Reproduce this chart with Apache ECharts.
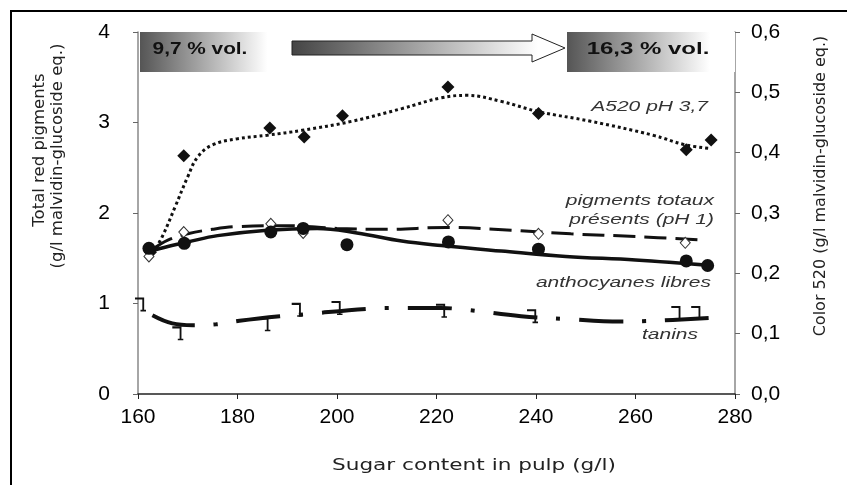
<!DOCTYPE html>
<html>
<head>
<meta charset="utf-8">
<script src="https://cdn.jsdelivr.net/npm/echarts@6/dist/echarts.min.js"></script>
<style>
    html, body { margin: 0; padding: 0; background: #fff; }
    #chart { width: 847px; height: 485px; }
</style>
</head>
<body>
<div id="chart"></div>
<script>
/*
|--------------------------------------------------------------------------
| Data
|--------------------------------------------------------------------------
*/

// A520 pH 3,7 (right axis)
const a520Sugar = [162.5, 169.2, 186.5, 193.4, 201.1, 222.3, 240.5, 270.2, 275.2];
const a520Values = [0.235, 0.395, 0.441, 0.426, 0.461, 0.509, 0.465, 0.405, 0.421];
const a520TrendSugar = [163, 165, 167.5, 170, 172, 175, 180, 186, 193, 203, 213, 221, 226, 233, 240.5, 251, 263.5, 270, 275];
const a520TrendValues = [0.233, 0.263, 0.311, 0.36, 0.393, 0.413, 0.423, 0.429, 0.437, 0.452, 0.473, 0.491, 0.495, 0.485, 0.468, 0.452, 0.429, 0.413, 0.407];

// pigments totaux présents (pH 1)
const pigmentsSugar = [162.2, 169.2, 186.7, 193.2, 222.3, 240.5, 270];
const pigmentsValues = [1.52, 1.79, 1.88, 1.78, 1.92, 1.77, 1.67];
const pigmentsTrendSugar = [163, 166, 170, 175, 180, 190, 200, 210, 222, 235, 247, 260, 274];
const pigmentsTrendValues = [1.60, 1.70, 1.77, 1.82, 1.85, 1.86, 1.83, 1.82, 1.84, 1.81, 1.77, 1.74, 1.70];

// anthocyanes libres
const anthoSugar = [162.2, 169.3, 186.7, 193.2, 202, 222.4, 240.5, 270.2, 274.5];
const anthoValues = [1.61, 1.665, 1.79, 1.83, 1.65, 1.68, 1.60, 1.47, 1.42];
const anthoTrendSugar = [162.5, 166, 170, 176, 186, 196, 204, 213, 221, 233, 246, 260, 275];
const anthoTrendValues = [1.58, 1.63, 1.68, 1.75, 1.81, 1.83, 1.78, 1.69, 1.64, 1.58, 1.52, 1.48, 1.42];

// tanins
const taninsSugar = [160.5, 168, 185.5, 192, 200, 221, 239.3, 268.3, 272.3];
const taninsValues = [0.99, 0.67, 0.77, 0.93, 0.95, 0.92, 0.86, 0.895, 0.895];
const taninsTrendSugar = [162.9, 166.9, 171, 175.7, 180.4, 188.5, 193.2, 206, 212, 221, 226, 237, 245.7, 257, 264, 274.7];
const taninsTrendValues = [0.87, 0.78, 0.76, 0.77, 0.81, 0.86, 0.88, 0.94, 0.95, 0.95, 0.93, 0.86, 0.83, 0.80, 0.81, 0.84];

/*
|--------------------------------------------------------------------------
| Helpers
|--------------------------------------------------------------------------
*/

const ink = '#111';
const labelColor = '#333';
const zip = (xs, ys) => xs.map((x, i) => [x, ys[i]]);

// "⅂" shaped marker used for tanins
const taninSymbol = 'path://M0,0 H10 V12 H12 V13.5 H6 V12 H8 V2 H0 Z';

function trendSeries(name, xs, ys, lineType, width, yAxisIndex = 0) {
    return {
        name,
        type: 'line',
        yAxisIndex,
        smooth: 0.4,
        showSymbol: false,
        silent: true,
        lineStyle: { color: ink, width, type: lineType, cap: 'butt' },
        data: zip(xs, ys),
        z: 2,
    };
}

function italicLabel(text, x, y) {
    return {
        type: 'text',
        x, y,
        scaleX: 1.5,
        style: {
            text,
            fill: labelColor,
            font: 'italic 14px "Liberation Sans", Arial, sans-serif',
            textAlign: 'right', align: 'right',
            textVerticalAlign: 'middle', verticalAlign: 'middle',
        },
        z: 10,
    };
}

function gradientBox(x, width) {
    return {
        type: 'rect',
        shape: { x, y: 32, width, height: 40 },
        style: {
            fill: new echarts.graphic.LinearGradient(0, 0, 1, 0, [
                { offset: 0, color: '#555' },
                { offset: 0.85, color: '#ffffff' },
                { offset: 1, color: '#ffffff' },
            ]),
        },
        z: 1,
    };
}

function boldText(text, x, y, scaleX) {
    return {
        type: 'text',
        x, y,
        scaleX,
        style: {
            text,
            fill: '#111',
            font: 'bold 16px "Liberation Sans", Arial, sans-serif',
            textAlign: 'center', align: 'center',
            textVerticalAlign: 'middle', verticalAlign: 'middle',
        },
        z: 11,
    };
}

function axisTitle(text, x, y, rotation, size, scaleX) {
    return {
        type: 'text',
        x, y,
        rotation,
        scaleX,
        style: {
            text,
            fill: '#222',
            font: size + 'px "DejaVu Sans", Tahoma, sans-serif',
            textAlign: 'center', align: 'center',
            textVerticalAlign: 'middle', verticalAlign: 'middle',
        },
    };
}

/*
|--------------------------------------------------------------------------
| Chart
|--------------------------------------------------------------------------
*/

function initializeChart() {
    const chart = echarts.init(document.getElementById('chart'), null, { renderer: 'canvas' });

    const tickLabel = { color: '#000', fontSize: 21, fontFamily: '"Liberation Sans", Arial, sans-serif' };

    const series = [
        trendSeries('A520 trend', a520TrendSugar, a520TrendValues, [3, 3], 3, 1),
        {
            name: 'A520 pH 3,7',
            type: 'scatter',
            yAxisIndex: 1,
            symbol: 'diamond',
            symbolSize: [13, 13],
            itemStyle: { color: ink, opacity: 1 },
            data: zip(a520Sugar, a520Values),
            z: 3,
        },
        trendSeries('pigments trend', pigmentsTrendSugar, pigmentsTrendValues, [22, 9], 3),
        {
            name: 'pigments totaux présents (pH 1)',
            type: 'scatter',
            symbol: 'diamond',
            symbolSize: [10, 11],
            itemStyle: { color: '#fff', borderColor: '#333', borderWidth: 1, opacity: 1 },
            data: zip(pigmentsSugar, pigmentsValues),
            z: 3,
        },
        trendSeries('anthocyanes trend', anthoTrendSugar, anthoTrendValues, 'solid', 3.5),
        {
            name: 'anthocyanes libres',
            type: 'scatter',
            symbol: 'circle',
            symbolSize: 13,
            itemStyle: { color: ink, opacity: 1 },
            data: zip(anthoSugar, anthoValues),
            z: 4,
        },
        trendSeries('tanins trend', taninsTrendSugar, taninsTrendValues, [44, 19, 4, 19], 4),
        {
            name: 'tanins',
            type: 'scatter',
            symbol: taninSymbol,
            symbolSize: [11, 14],
            itemStyle: { color: ink, opacity: 1 },
            data: zip(taninsSugar, taninsValues),
            z: 4,
        },
    ];

    const graphic = [
        // Outer frame of the scanned figure
        {
            type: 'rect',
            shape: { x: 11, y: 11, width: 860, height: 500 },
            style: { fill: 'none', stroke: '#000', lineWidth: 2 },
        },
        // Alcohol banner
        gradientBox(140, 150),
        gradientBox(567, 168),
        {
            type: 'polygon',
            shape: { points: [[292, 41], [532, 41], [532, 34], [565, 48], [532, 62], [532, 55], [292, 55]] },
            style: {
                fill: new echarts.graphic.LinearGradient(0, 0, 1, 0, [
                    { offset: 0, color: '#444' },
                    { offset: 0.9, color: '#fff' },
                ]),
                stroke: '#222',
                lineWidth: 1,
            },
            z: 2,
        },
        boldText('9,7 % vol.', 200, 50, 1.3),
        boldText('16,3 % vol.', 648, 50, 1.5),
        // Series labels
        italicLabel('A520 pH 3,7', 708, 107),
        italicLabel('pigments totaux', 714, 201),
        italicLabel('présents (pH 1)', 714, 220),
        italicLabel('anthocyanes libres', 711, 283),
        italicLabel('tanins', 698, 335),
        // Axis titles
        axisTitle('Total red pigments', 40, 150, Math.PI / 2, 15, 1.1),
        axisTitle('(g/l malvidin-glucoside eq.)', 58, 156, Math.PI / 2, 15, 1.1),
        axisTitle('Color 520 (g/l malvidin-glucoside eq.)', 821, 186, Math.PI / 2, 16, 1.0),
        axisTitle('Sugar content in pulp (g/l)', 474, 466, 0, 16, 1.35),
    ];

    chart.setOption({
        animation: false,
        backgroundColor: '#fff',
        grid: { left: 138, right: 112, top: 32, bottom: 91 },
        xAxis: {
            type: 'value',
            min: 160, max: 280, interval: 20,
            axisLine: { lineStyle: { color: '#222', width: 1.5 } },
            axisTick: { show: true, length: 5, lineStyle: { color: '#222' } },
            axisLabel: { ...tickLabel, margin: 13 },
            splitLine: { show: false },
        },
        yAxis: [
            {
                type: 'value',
                min: 0, max: 4, interval: 1,
                axisLine: { show: true, lineStyle: { color: '#888', width: 1.5 } },
                axisTick: { show: true, length: 5, lineStyle: { color: '#666' } },
                axisLabel: { ...tickLabel, margin: 28 },
                splitLine: { show: false },
            },
            {
                type: 'value',
                position: 'right',
                min: 0, max: 0.6, interval: 0.1,
                axisLine: { show: true, lineStyle: { color: '#888', width: 1.5 } },
                axisTick: { show: true, length: 5, lineStyle: { color: '#666' } },
                axisLabel: {
                    ...tickLabel,
                    margin: 16,
                    formatter: v => v.toFixed(1).replace('.', ','),
                },
                splitLine: { show: false },
            },
        ],
        series,
        graphic,
    });
}

initializeChart();
</script>
</body>
</html>
